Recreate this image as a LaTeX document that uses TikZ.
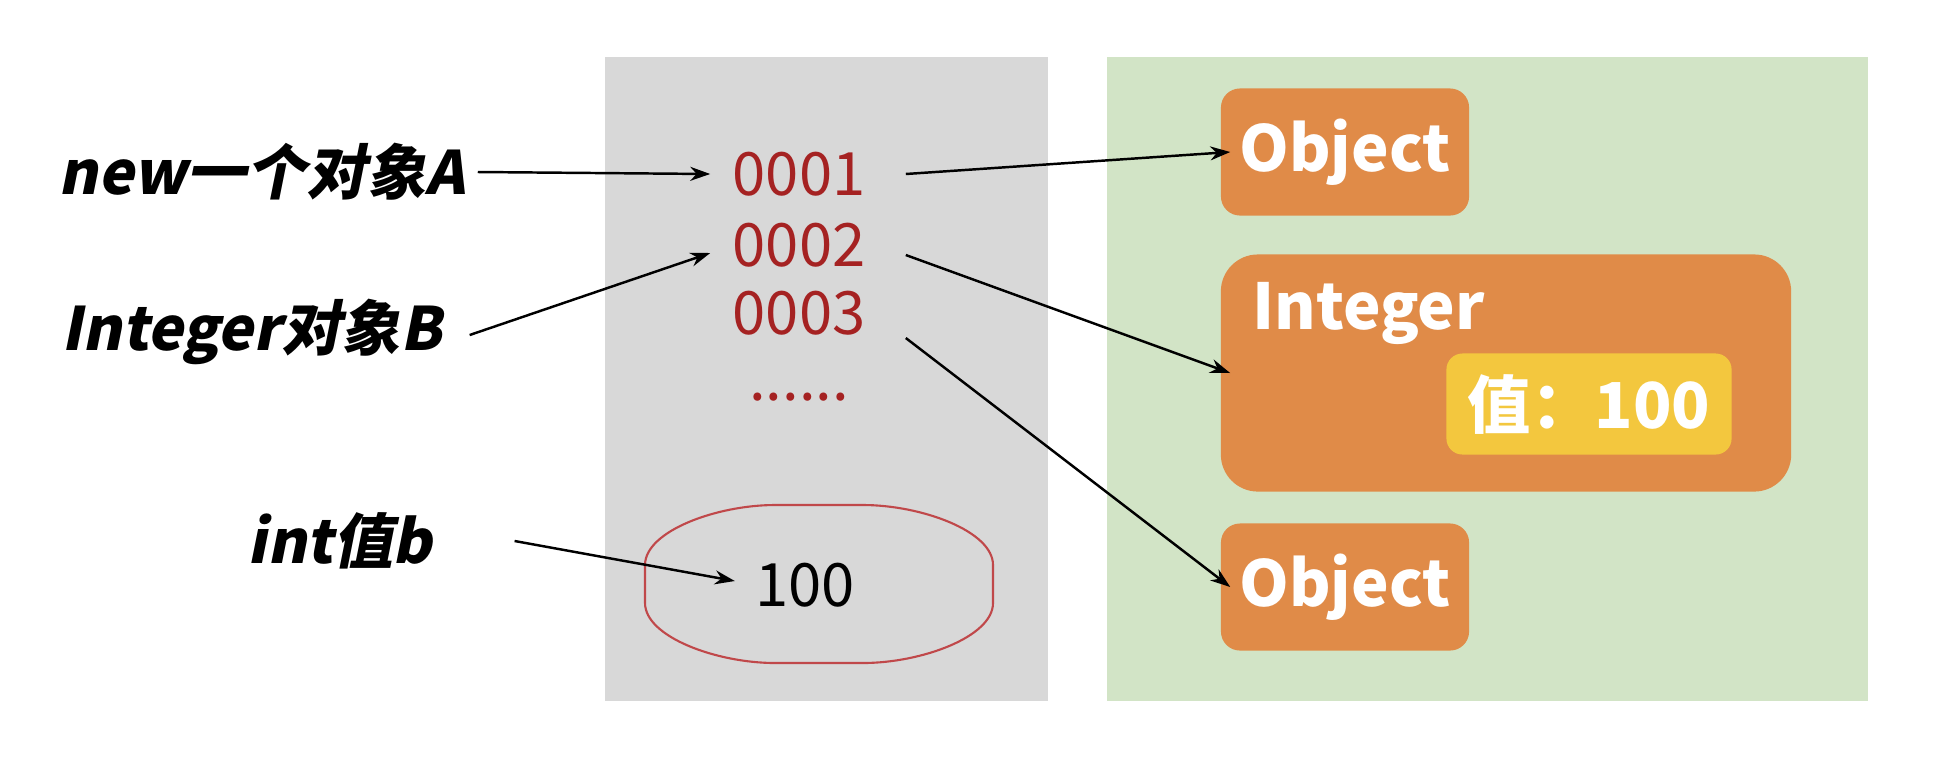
\documentclass[tikz,border=0pt]{standalone}
\usepackage{fontspec}
\setmainfont{Noto Sans CJK SC}
\newfontfamily\lblfont{Noto Sans CJK SC}[FakeSlant=0.2]
\usetikzlibrary{arrows.meta}
\definecolor{memgrey}{HTML}{D8D8D8}
\definecolor{heapgreen}{HTML}{D2E4C6}
\definecolor{objorange}{HTML}{E08B48}
\definecolor{valyellow}{HTML}{F3C73E}
\definecolor{addrred}{HTML}{A52222}
\definecolor{ringred}{HTML}{C0484A}
\tikzset{
  lbl/.style={font=\lblfont\bfseries\fontsize{17}{20}\selectfont},
  addr/.style={text=addrred,font=\fontsize{17}{20}\selectfont},
  objbox/.style={fill=objorange,rounded corners=0.19cm,text=white,
    font=\bfseries\fontsize{18}{21}\selectfont,minimum width=2.48cm,minimum height=1.27cm},
  ptr/.style={-{Stealth[length=0.2cm,width=0.14cm]},line width=0.7pt}
}
\begin{document}
\begin{tikzpicture}[x=0.01cm,y=-0.01cm]
      \useasboundingbox (0,0) rectangle (1940,766);
      \fill[memgrey] (605,57) rectangle (1048,701);
      \fill[heapgreen] (1107,57) rectangle (1868,701);
      \draw
        (262,172) node[lbl] (lblA){new一个对象A}
        (252,332) node[lbl] (lblB){Integer对象B}
        (340,541) node[lbl] (lblb){int值b}
        (799,174) node[addr] (a1){0001}
        (799,245) node[addr] (a2){0002}
        (799,313) node[addr] (a3){0003}
        (799,397) node[addr] (dots){......}
        (805,585) node[font=\fontsize{17}{20}\selectfont] (v){100};
      \draw[ringred,line width=0.6pt] (645,565) .. controls (645,531) and (717,505) .. (775,505)
        -- (863,505) .. controls (921,505) and (993,531) .. (993,565)
        -- (993,603) .. controls (993,637) and (921,663) .. (863,663)
        -- (775,663) .. controls (717,663) and (645,637) .. (645,603) -- cycle;
      \node[objbox] (objA) at (1345,152) {Object};
      \node[fill=objorange,rounded corners=0.37cm,minimum width=5.7cm,minimum height=2.37cm] (intB) at (1506,373) {};
      \node[anchor=north west,text=white,font=\bfseries\fontsize{18}{21}\selectfont,inner sep=0pt] (intL) at (1252,282) {Integer};
      \node[fill=valyellow,rounded corners=0.16cm,text=white,font=\bfseries\fontsize{18}{21}\selectfont,
        minimum width=2.85cm,minimum height=1.01cm] (val) at (1589,404) {值：100};
      \node[objbox] (objC) at (1345,587) {Object};
      \begin{scope}[ptr]
        \draw (lblA.east) -- ([xshift=-0.1cm]a1.west);
        \draw ([xshift=0.15cm,yshift=-0.03cm]lblB.east) -- ([xshift=-0.1cm,yshift=-0.08cm]a2.west);
        \draw ([xshift=0.7cm]lblb.east) -- ([xshift=-0.08cm,yshift=0.04cm]v.west);
        \draw ([xshift=0.28cm]a1.east) -- ([xshift=0.1cm]objA.west);
        \draw ([xshift=0.28cm,yshift=-0.1cm]a2.east) -- ([xshift=0.1cm]intB.west);
        \draw ([xshift=0.28cm,yshift=-0.25cm]a3.east) -- ([xshift=0.1cm]objC.west);
      \end{scope}
    \end{tikzpicture}
\end{document}
